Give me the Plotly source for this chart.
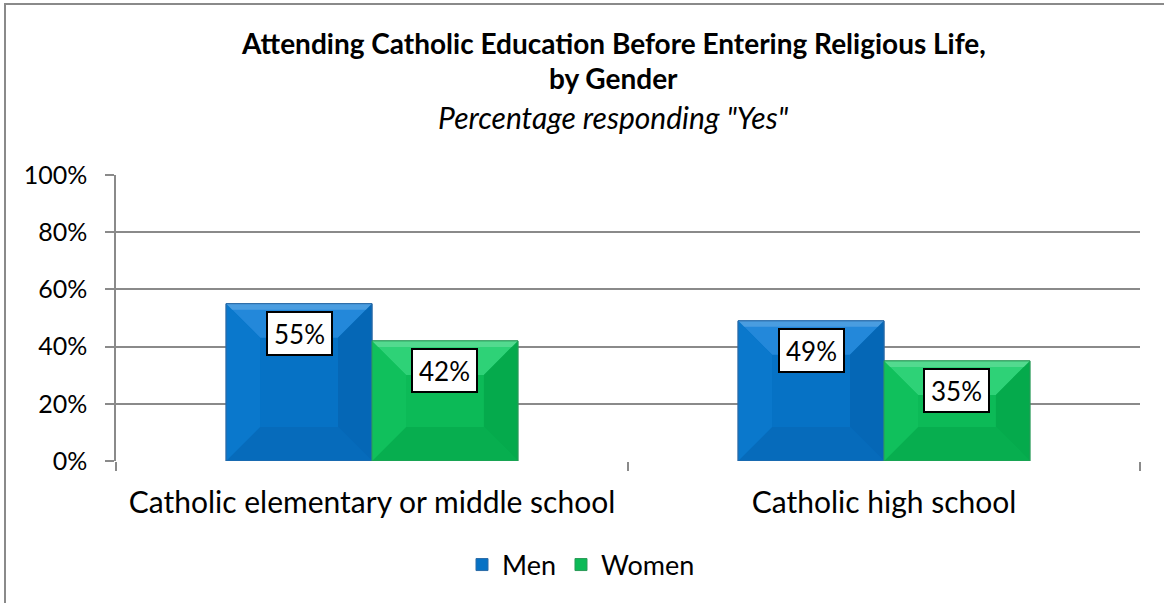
import plotly.graph_objects as go

# Survey results: share answering "Yes"
categories = ["Catholic elementary or middle school", "Catholic high school"]
men = [55, 49]
women = [42, 35]
y_ticks = [0, 20, 40, 60, 80, 100]
y_tick_labels = ["0%", "20%", "40%", "60%", "80%", "100%"]

FONT = "Lato"
W, H = 1164, 603
M_L, M_R, M_T, M_B = 116, 24, 175, 142
BARGAP = 0.43

plot_w = W - M_L - M_R
plot_h = H - M_T - M_B
px_per_x = plot_w / 2.0          # x range spans two category units
px_per_y = plot_h / 100.0        # y range spans 0..100

series = [
    dict(name="Men", values=men, face="#0672c5", line="#2a6aa6",
         top="#2388da", left="#0a78cc", right="#0567b6", bottom="#066bbb"),
    dict(name="Women", values=women, face="#0cba57", line="#2a9a58",
         top="#2ed277", left="#10c05c", right="#05aa4c", bottom="#07ae4f"),
]

xpos = list(range(len(categories)))
bar_w = (1 - BARGAP) / len(series)

fig = go.Figure()
for s in series:
    fig.add_trace(go.Bar(
        x=xpos, y=s["values"], name=s["name"],
        marker=dict(color=s["face"], line=dict(color=s["line"], width=1)),
        hoverinfo="skip",
    ))

# Bevelled faces and value boxes for every bar
shapes = []
annotations = []
bevel_px = 34
dx = bevel_px / px_per_x
for k, s in enumerate(series):
    for i, v in zip(xpos, s["values"]):
        xc = i + (k - (len(series) - 1) / 2) * bar_w
        xl, xr = xc - bar_w / 2, xc + bar_w / 2
        d = min(bevel_px, v * px_per_y / 2) / px_per_y
        polys = {
            "top": [(xl, v), (xr, v), (xr - dx, v - d), (xl + dx, v - d)],
            "bottom": [(xl, 0), (xr, 0), (xr - dx, d), (xl + dx, d)],
            "left": [(xl, 0), (xl, v), (xl + dx, v - d), (xl + dx, d)],
            "right": [(xr, 0), (xr, v), (xr - dx, v - d), (xr - dx, d)],
        }
        for side, pts in polys.items():
            path = "M " + " L ".join(f"{px},{py}" for px, py in pts) + " Z"
            shapes.append(dict(type="path", path=path, xref="x", yref="y",
                               fillcolor=s[side], line=dict(width=0),
                               layer="above"))
        # thin highlight along the upper edge
        hl = 6 / px_per_y
        shapes.append(dict(type="path", xref="x", yref="y", layer="above",
                           path=f"M {xl},{v} L {xr},{v} L {xr - 6 / px_per_x},{v - hl} "
                                f"L {xl + 6 / px_per_x},{v - hl} Z",
                           fillcolor="rgba(255,255,255,0.18)", line=dict(width=0)))
        shapes.append(dict(type="rect", x0=xl, x1=xr, y0=0, y1=v,
                           xref="x", yref="y", line=dict(color=s["line"], width=1),
                           fillcolor="rgba(0,0,0,0)", layer="above"))
        annotations.append(dict(
            x=xc, y=v, xref="x", yref="y", yanchor="top", yshift=-7,
            text=f"{v}%", showarrow=False,
            font=dict(family=FONT, size=26, color="black"),
            bgcolor="white", bordercolor="black", borderwidth=2,
            borderpad=0, width=63, height=41,
        ))

# Outer chart frame
shapes.append(dict(type="rect", xref="paper", yref="paper",
                   x0=(5 - M_L) / plot_w, x1=(W + 20 - M_L) / plot_w,
                   y0=-(H + 20 - M_T - plot_h) / plot_h, y1=(H - M_B - 4) / plot_h,
                   line=dict(color="#8a8a8a", width=2), layer="below"))

# Title block
title_x = (613 - M_L) / plot_w
def py(pix):
    return (H - M_B - pix) / plot_h
annotations += [
    dict(text="<b>Attending Catholic Education Before Entering Religious Life,</b>",
         x=title_x, y=py(43), xref="paper", yref="paper", showarrow=False,
         font=dict(family=FONT, size=28, color="black"), xanchor="center", yanchor="middle"),
    dict(text="<b>by Gender</b>",
         x=title_x, y=py(77.5), xref="paper", yref="paper", showarrow=False,
         font=dict(family=FONT, size=28, color="black"), xanchor="center", yanchor="middle"),
    dict(text="<i>Percentage responding \"Yes\"</i>",
         x=title_x, y=py(117), xref="paper", yref="paper", showarrow=False,
         font=dict(family=FONT, size=30, color="black"), xanchor="center", yanchor="middle"),
]

fig.update_layout(
    width=W, height=H,
    margin=dict(l=M_L, r=M_R, t=M_T, b=M_B),
    paper_bgcolor="white", plot_bgcolor="white",
    barmode="group", bargap=BARGAP, bargroupgap=0,
    font=dict(family=FONT, size=26, color="black"),
    shapes=shapes, annotations=annotations,
    showlegend=True,
    legend=dict(orientation="h", x=(462 - M_L) / plot_w, xanchor="left",
                y=py(565), yanchor="middle",
                font=dict(family=FONT, size=27, color="black"),
                itemwidth=30, tracegroupgap=0),
    xaxis=dict(
        range=[-0.5, 1.5], tickvals=xpos, ticktext=categories,
        ticks="", showgrid=False, zeroline=False, showline=False,
        tickfont=dict(family=FONT, size=30, color="black"),
        ticklabelstandoff=21,
        minor=dict(tickvals=[-0.5, 0.5, 1.5], ticks="outside", ticklen=9,
                   tickcolor="#8a8a8a", tickwidth=1.5, showgrid=False),
    ),
    yaxis=dict(
        range=[0, 100], tickvals=y_ticks, ticktext=y_tick_labels,
        ticks="outside", ticklen=9, tickcolor="#8a8a8a", tickwidth=1.5,
        showline=True, linecolor="#8a8a8a", linewidth=1.5,
        showgrid=True, gridcolor="#8a8a8a", gridwidth=1.5,
        zeroline=False,
        tickfont=dict(family=FONT, size=25, color="black"),
        ticklabelstandoff=13,
    ),
)

fig.write_html("out.html")
